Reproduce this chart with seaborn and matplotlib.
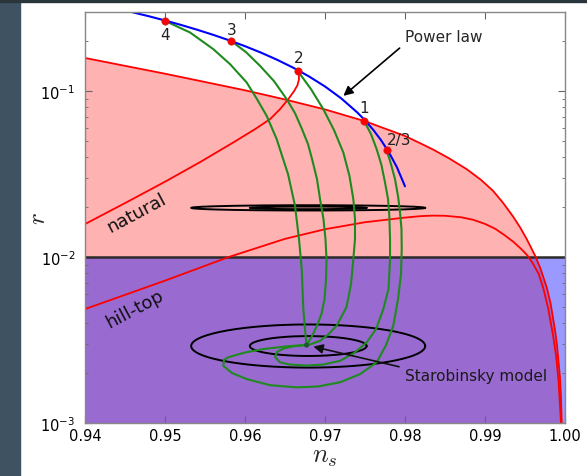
import numpy as np
import matplotlib
matplotlib.use('Agg')
import matplotlib.pyplot as plt
from matplotlib.patches import Rectangle
import seaborn as sns

# ---- data ----
# power-law models: labelled points (n_s, r)
pl_labels = ['4', '3', '2', '1', '2/3']
pl_ns = [0.9500, 0.9583, 0.9666, 0.9749, 0.9777]
pl_r = [0.265, 0.1995, 0.1325, 0.0659, 0.0442]
pl_label_ns = [0.9500, 0.9583, 0.9667, 0.9749, 0.9793]
pl_label_r = [0.2206, 0.234, 0.1596, 0.0797, 0.0514]

# blue power-law line
blue_ns = [0.9458, 0.948, 0.950, 0.952, 0.954, 0.956, 0.958, 0.960, 0.962, 0.964, 0.966,
           0.968, 0.970, 0.972, 0.974, 0.975, 0.976, 0.977, 0.978, 0.979, 0.980]
blue_r = [0.300, 0.2827, 0.2667, 0.2507, 0.2347, 0.2187, 0.2027, 0.1867, 0.1707, 0.1547,
          0.1387, 0.1227, 0.1067, 0.0907, 0.0747, 0.0667, 0.0587, 0.0507, 0.0427, 0.0347,
          0.0267]

# upper red boundary (edge of pink region)
upper_ns = [0.940, 0.950, 0.960, 0.965, 0.970, 0.975, 0.980, 0.982, 0.9835, 0.9855, 0.9877,
            0.9895, 0.9910, 0.9922, 0.9935, 0.9944, 0.9952, 0.99625, 0.9969, 0.9977, 0.9982,
            0.99875, 0.9990, 0.99938, 0.9995, 0.99959]
upper_r = [0.1585, 0.1274, 0.1012, 0.0891, 0.0776, 0.0659, 0.0537, 0.0483, 0.0445, 0.0394,
           0.0339, 0.0292, 0.0251, 0.0214, 0.01758, 0.01507, 0.01288, 0.01023, 0.00861,
           0.00661, 0.00525, 0.00363, 0.00295, 0.00186, 0.00141, 0.0010]

# lower red curve (hill-top)
hill_ns = [0.940, 0.950, 0.958, 0.965, 0.970, 0.975, 0.980, 0.982, 0.9835, 0.985, 0.987,
           0.9885, 0.990, 0.9913, 0.9925, 0.9936, 0.9945, 0.9953, 0.9960, 0.9967, 0.9973,
           0.9979, 0.9985, 0.9989, 0.9992, 0.9995]
hill_r = [0.00486, 0.00721, 0.01002, 0.01288, 0.01472, 0.01622, 0.01730, 0.01766, 0.01778,
          0.01774, 0.01738, 0.01679, 0.01585, 0.01479, 0.01349, 0.0123, 0.01122, 0.01023,
          0.00912, 0.00794, 0.00646, 0.0049, 0.00339, 0.00251, 0.00178, 0.0010]

# red "natural" curve ending with a hook at point 2
nat_ns = [0.9400, 0.9450, 0.95021, 0.95438, 0.95854, 0.96125, 0.96313, 0.96438, 0.96541,
          0.96613, 0.96656, 0.96675, 0.96673, 0.96659]
nat_r = [0.01581, 0.02115, 0.02882, 0.03735, 0.04909, 0.0590, 0.0678, 0.0779, 0.0895,
         0.1000, 0.1087, 0.1181, 0.1257, 0.1325]

# green curves, one from each power-law point down to the Starobinsky point
g4_ns = [0.9500, 0.95313, 0.95604, 0.95813, 0.96021, 0.9615, 0.96271, 0.96396, 0.96538,
         0.96625, 0.96675, 0.96709, 0.96729, 0.9675, 0.96769]
g4_r = [0.2652, 0.2258, 0.1791, 0.1455, 0.1128, 0.0895, 0.0710, 0.0514, 0.0316, 0.0204,
        0.01284, 0.00847, 0.00486, 0.00368, 0.00295]
g3_ns = [0.95834, 0.96013, 0.96188, 0.96363, 0.96521, 0.96625, 0.96713, 0.96788, 0.96838,
         0.9690, 0.96938, 0.96981, 0.97006, 0.97019, 0.97013, 0.96994, 0.96956, 0.9690,
         0.96838, 0.9677]
g3_r = [0.1995, 0.1718, 0.1421, 0.1149, 0.0895, 0.0737, 0.0590, 0.0479, 0.0390, 0.0295,
        0.02236, 0.01694, 0.01284, 0.00972, 0.00737, 0.00558, 0.00454, 0.00386, 0.00334,
        0.00295]
g2_ns = [0.96659, 0.96825, 0.96979, 0.97113, 0.97229, 0.97306, 0.97354, 0.97375, 0.97375,
         0.97354, 0.97325, 0.97269, 0.97146, 0.97038, 0.96938, 0.96791]
g2_r = [0.1325, 0.1028, 0.0779, 0.0582, 0.0427, 0.0308, 0.02236, 0.01694, 0.01284, 0.00972,
        0.00688, 0.0050, 0.00386, 0.00341, 0.00313, 0.00295]
g1_ns = [0.97491, 0.97575, 0.97646, 0.97706, 0.9775, 0.97788, 0.97804, 0.97813, 0.97813,
         0.97794, 0.97729, 0.97638, 0.97521, 0.97363, 0.97188, 0.96975, 0.96771, 0.96563,
         0.96438, 0.96375, 0.9640, 0.96479, 0.96588, 0.96769]
g1_r = [0.0659, 0.0551, 0.0447, 0.0358, 0.0282, 0.02236, 0.01774, 0.01284, 0.00972, 0.00641,
        0.00486, 0.00368, 0.00306, 0.00264, 0.00237, 0.00225, 0.00222, 0.00225, 0.00232,
        0.0025, 0.00268, 0.00281, 0.00289, 0.00295]
g23_ns = [0.97771, 0.97825, 0.97875, 0.97913, 0.97938, 0.97956, 0.97959, 0.9795, 0.97913,
          0.97854, 0.97763, 0.97646, 0.97438, 0.97188, 0.96913, 0.96646, 0.96313, 0.96021,
          0.95838, 0.95729, 0.95738, 0.95791, 0.9600, 0.96229, 0.9650, 0.96729]
g23_r = [0.0442, 0.0363, 0.0295, 0.0233, 0.0186, 0.01475, 0.01117, 0.0079, 0.00558, 0.00386,
         0.00295, 0.00232, 0.00197, 0.00176, 0.00166, 0.00164, 0.00169, 0.00184, 0.0020,
         0.00221, 0.0024, 0.00249, 0.00266, 0.00279, 0.00289, 0.00295]
green_curves = [(g4_ns, g4_r), (g3_ns, g3_r), (g2_ns, g2_r), (g1_ns, g1_r), (g23_ns, g23_r)]

staro_ns = [0.9677]
staro_r = [0.00295]

# confidence contours: centre n_s, centre r, half width in n_s, half height in decades
cont_ns0 = [0.9679, 0.9679, 0.9679, 0.9679]
cont_r0 = [0.00291, 0.00291, 0.0198, 0.0198]
cont_dns = [0.01463, 0.0073, 0.01463, 0.0073]
cont_dlog = [0.130, 0.060, 0.016, 0.008]

r_bound = 0.01

# ---- figure ----
sns.set_style('ticks')
plt.rcParams.update({
    'font.family': ['DejaVu Sans'],
    'font.size': 10.5,
    'xtick.direction': 'in', 'ytick.direction': 'in',
    'xtick.top': True, 'ytick.right': True,
    'xtick.color': '#666666', 'ytick.color': '#666666',
    'xtick.labelcolor': 'black', 'ytick.labelcolor': 'black',
    'xtick.labelsize': 10.5, 'ytick.labelsize': 10.5,
    'axes.edgecolor': '#888888', 'axes.linewidth': 1.0,
})

fig = plt.figure(figsize=(5.87, 4.77), dpi=100)
fig.patch.set_facecolor('white')
fig.patches.append(Rectangle((0, 0), 20 / 587, 1, transform=fig.transFigure,
                             color='#3e5262', zorder=-1))
fig.patches.append(Rectangle((0, 1 - 3.3 / 477), 1, 3.3 / 477, transform=fig.transFigure,
                             color='#29353a', zorder=-1))
ax = fig.add_axes([85 / 587, 53 / 477, 480 / 587, 411 / 477])
ax.set_yscale('log')
ax.set_xlim(0.94, 1.00)
ax.set_ylim(1e-3, 0.3)

# shaded regions
ax.fill_between(upper_ns, upper_r, 1e-3, color='red', alpha=0.3, lw=0, zorder=0)
ax.fill_between([0.94, 1.00], [r_bound, r_bound], 1e-3, color='blue', alpha=0.4, lw=0, zorder=0)
ax.axhline(r_bound, color='#2a2a2a', lw=1.8, zorder=1)

# red curves
for xs, ys in [(upper_ns, upper_r), (hill_ns, hill_r), (nat_ns, nat_r)]:
    sns.lineplot(x=xs, y=ys, sort=False, estimator=None, color='red', lw=1.3, ax=ax, zorder=2)

# contours
t = np.linspace(0, 2 * np.pi, 200)
for c0, r0, a, b in zip(cont_ns0, cont_r0, cont_dns, cont_dlog):
    sns.lineplot(x=c0 + a * np.cos(t), y=10 ** (np.log10(r0) + b * np.sin(t)),
                 sort=False, estimator=None, color='black', lw=1.4, ax=ax, zorder=3)

# green curves
for xs, ys in green_curves:
    sns.lineplot(x=xs, y=ys, sort=False, estimator=None, color='#1f8a1f', lw=1.5, ax=ax, zorder=4)

# blue power-law line and points
sns.lineplot(x=blue_ns, y=blue_r, sort=False, estimator=None, color='blue', lw=1.5, ax=ax, zorder=5)
sns.scatterplot(x=pl_ns, y=pl_r, color='red', s=28, edgecolor='#cc2222', linewidth=0.5,
                ax=ax, zorder=6)
sns.scatterplot(x=staro_ns, y=staro_r, color='#1a5a2a', s=14, edgecolor='none', ax=ax, zorder=6)

for lab, x, y in zip(pl_labels, pl_label_ns, pl_label_r):
    ax.text(x, y, lab, ha='center', va='center', fontsize=11, color='#222222', zorder=7)

ax.text(0.9465, 0.0186, 'natural', rotation=28, rotation_mode='anchor', ha='center',
        va='center', fontsize=13, color='#111111', zorder=7)
ax.text(0.94625, 0.00493, 'hill-top', rotation=28, rotation_mode='anchor', ha='center',
        va='center', fontsize=13, color='#111111', zorder=7)

ax.annotate('Power law', xy=(0.9723, 0.0937), xytext=(0.980, 0.215), ha='left', va='center',
            fontsize=11, zorder=7,
            arrowprops=dict(arrowstyle='-|>', color='black', lw=1.2, relpos=(0, 0),
                            shrinkA=2, shrinkB=0, mutation_scale=14))
ax.annotate('Starobinsky model', xy=(0.9677, 0.00295), xytext=(0.980, 0.00193), ha='left',
            va='center', fontsize=11, color='#1a1a1a', zorder=7,
            arrowprops=dict(arrowstyle='-|>', color='#111111', lw=1.2, relpos=(0, 1),
                            shrinkA=2, shrinkB=5, mutation_scale=14))

ax.set_xticks([0.94, 0.95, 0.96, 0.97, 0.98, 0.99, 1.00])
ax.set_xticklabels(['0.94', '0.95', '0.96', '0.97', '0.98', '0.99', '1.00'])
ax.tick_params(which='major', length=5, width=0.8)
ax.tick_params(which='minor', length=2.5, width=0.6)
ax.tick_params(axis='y', pad=7)

ax.set_xlabel('$n_s$', fontsize=19, math_fontfamily='cm', va='center')
ax.xaxis.set_label_coords(0.5, -0.078)
ax.set_ylabel('$r$', fontsize=18, math_fontfamily='cm', va='center', ha='center')
ax.yaxis.set_label_coords(-0.098, 0.5)
for s in ax.spines.values():
    s.set_zorder(8)

fig.savefig('out.png', dpi=100, facecolor=fig.get_facecolor())
